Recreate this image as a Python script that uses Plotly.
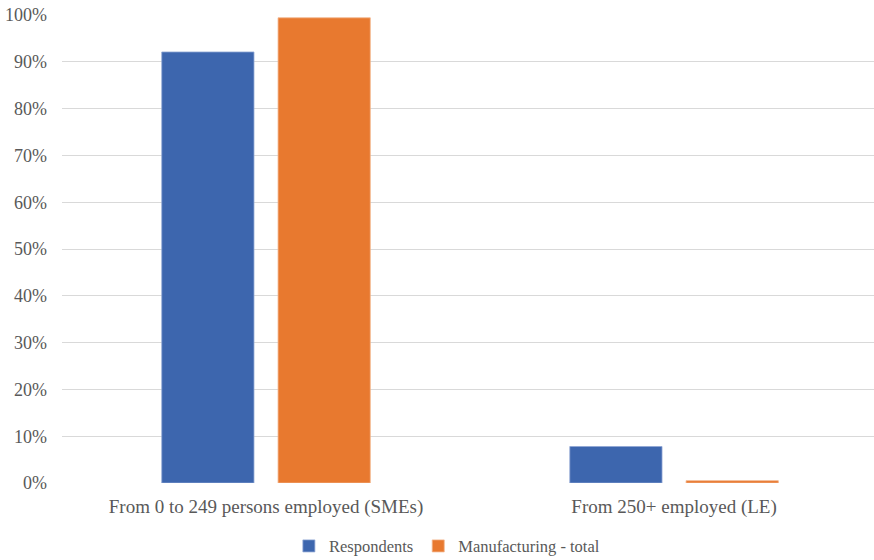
import plotly.graph_objects as go

categories = ["From 0 to 249 persons employed (SMEs)", "From 250+ employed (LE)"]
respondents = [0.921, 0.078]
manufacturing = [0.994, 0.005]
tick_vals = [i / 10 for i in range(11)]
tick_text = [f"{i*10}%" for i in range(11)]

SERIF = "Liberation Serif"
GREY = "#595959"

fig = go.Figure()
fig.add_trace(go.Bar(x=categories, y=respondents, name="Respondents",
                     marker=dict(color="#3D66AE", line=dict(color="#8FA6D4", width=0.8))))
fig.add_trace(go.Bar(x=categories, y=manufacturing, name="Manufacturing - total",
                     marker=dict(color="#E8792F", line=dict(color="#F2B48A", width=0.8))))

fig.update_layout(
    width=874, height=560,
    margin=dict(l=62, r=0, t=15, b=77, autoexpand=False),
    paper_bgcolor="white", plot_bgcolor="white",
    barmode="group", bargap=0.43, bargroupgap=0.207,
    font=dict(family=SERIF, size=16, color=GREY),
    xaxis=dict(showgrid=False, showline=False, ticks="", automargin=False,
               range=[-0.5, 1.49],
               tickfont=dict(family=SERIF, size=19, color=GREY), ticklabelstandoff=10),
    yaxis=dict(range=[0, 1.0], tickvals=tick_vals, ticktext=tick_text, automargin=False,
               showgrid=True, gridcolor="#D9D9D9", gridwidth=1, zeroline=False,
               showline=False, ticks="", ticklabelstandoff=14,
               tickfont=dict(family=SERIF, size=18, color=GREY)),
    legend=dict(orientation="h", x=0.474, xanchor="center", y=-0.135, yanchor="middle",
                font=dict(family=SERIF, size=16.5, color=GREY), itemwidth=30,
                tracegroupgap=0),
    showlegend=True,
)

fig.write_html("out.html")
